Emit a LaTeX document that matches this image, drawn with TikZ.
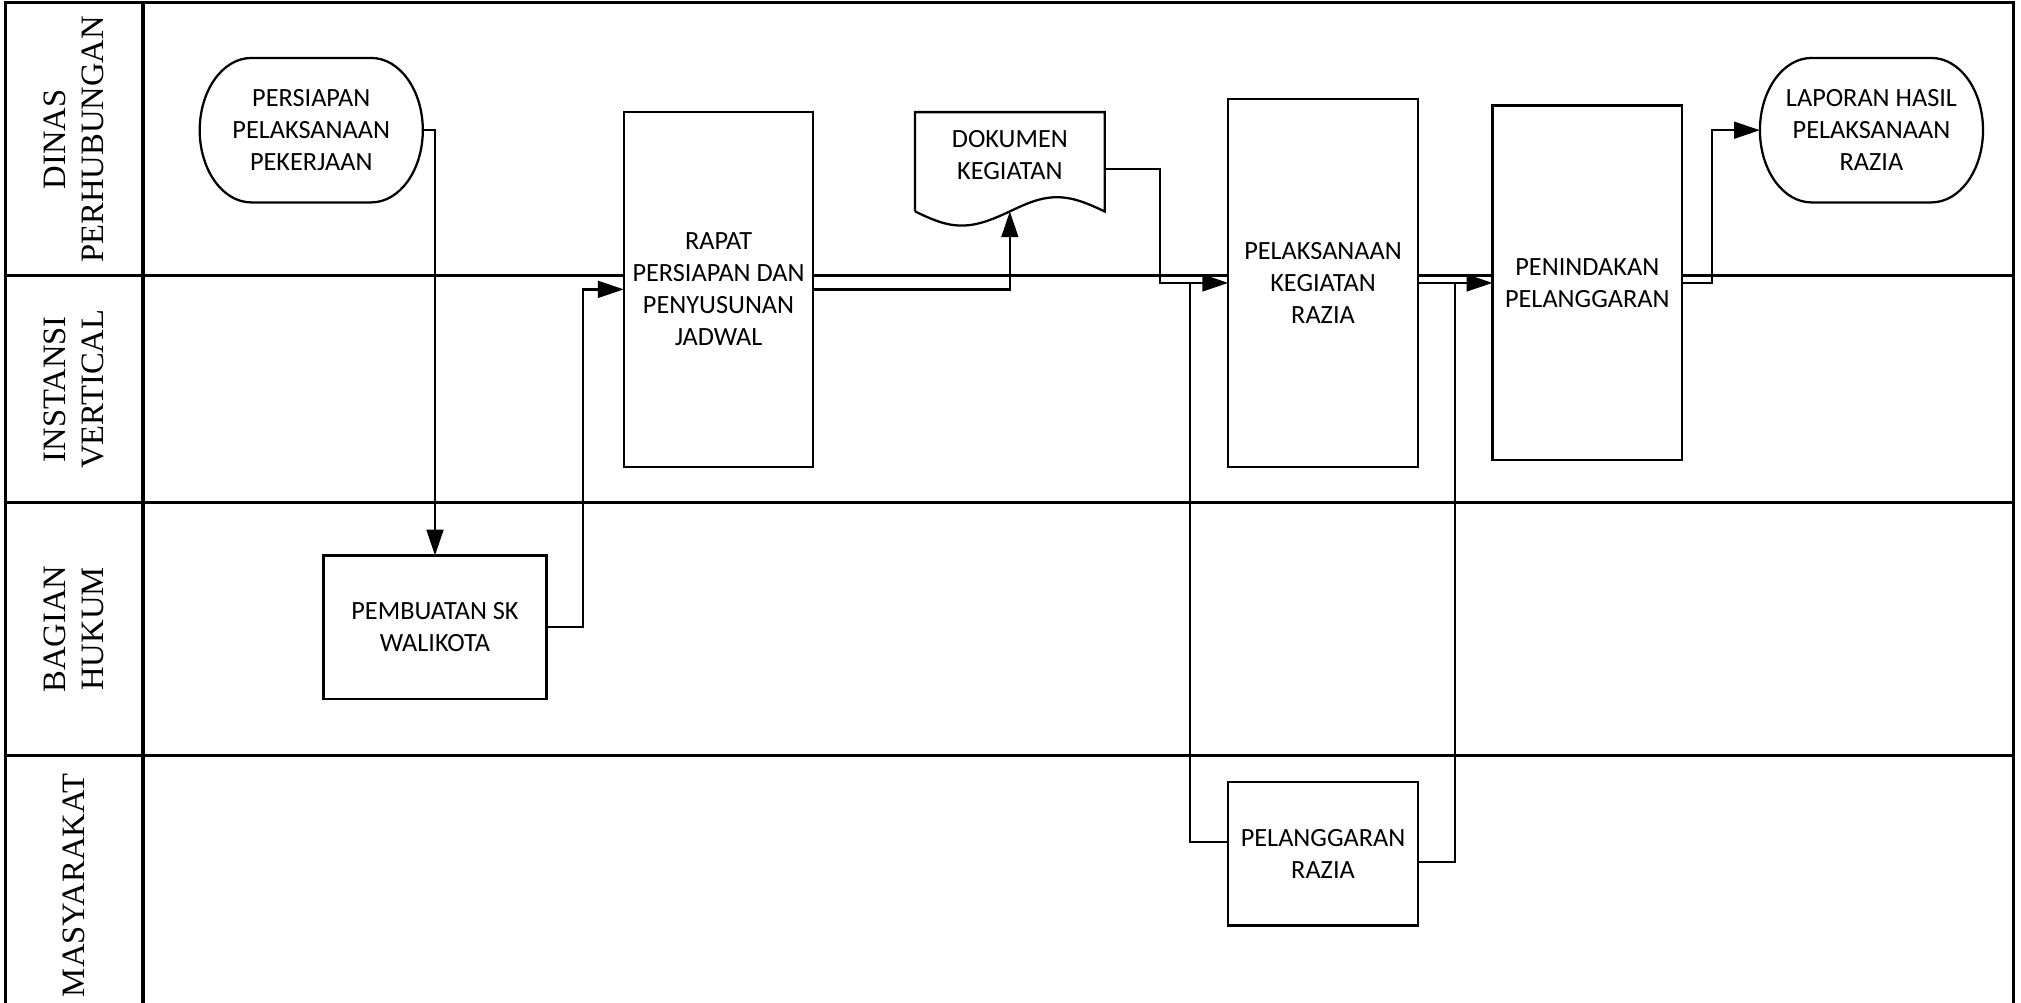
\documentclass[tikz,border=0pt]{standalone}
\usepackage{fontspec}
\setmainfont{Carlito}
\newfontfamily\lanefamily{Liberation Serif}
\usetikzlibrary{
	arrows.meta,
	positioning
}
\newcommand{\boxfont}{\fontsize{5.8}{7.1}\selectfont}
\newcommand{\lanefont}{\lanefamily\fontsize{7.2}{8.4}\selectfont}
\tikzset{
	lane/.style={
		line width=0.7pt
	},
	lanelabel/.style={
		rotate=90,
		align=center,
		font=\lanefont
	},
	process/.style={
		draw,
		fill=white,
		line width=0.5pt,
		align=center,
		font=\boxfont,
		inner sep=0pt,
		outer sep=0pt,
		minimum width=1.47cm
	},
	terminal/.style={
		align=center,
		font=\boxfont,
		inner sep=0pt,
		outer sep=0pt,
		minimum width=1.73cm,
		minimum height=1.12cm
	},
	flow/.style={
		line width=0.5pt,
		-{Triangle[length=0.2cm,width=0.13cm]}
	},
	link/.style={
		line width=0.5pt
	}
}

\begin{document}
\begin{tikzpicture}[x=0.01cm,y=-0.01cm]
	\useasboundingbox (0,0) rectangle (1568,778);

	% lanes
	\draw[lane] (4,778) -- (4,2) -- (1562,2) -- (1562,778);
	\draw[lane] (111,2) -- (111,778);
	\draw[lane] (4,214) -- (1562,214);
	\draw[lane] (4,390) -- (1562,390);
	\draw[lane] (4,586) -- (1562,586);

	\node[lanelabel] (dinas)     at (57.5,108) {DINAS\\PERHUBUNGAN};
	\node[lanelabel] (instansi)  at (57.5,302) {INSTANSI\\VERTICAL};
	\node[lanelabel] (hukum)     at (57.5,488) {BAGIAN\\HUKUM};
	\node[lanelabel] (masyarakat) at (57.5,687) {MASYARAKAT};

	% steps
	\node[terminal] (persiapan) at (241.5,101) {PERSIAPAN\\PELAKSANAAN\\PEKERJAAN};
	\node[terminal] (laporan)   at (1452,101)  {LAPORAN HASIL\\PELAKSANAAN\\RAZIA};
	\foreach \t in {persiapan,laporan}{
		\draw[link] ([xshift=0.4cm]\t.north west) -- ([xshift=-0.4cm]\t.north east)
			arc[start angle=90,end angle=-90,x radius=0.4cm,y radius=0.56cm]
			-- ([xshift=0.4cm]\t.south west)
			arc[start angle=270,end angle=90,x radius=0.4cm,y radius=0.56cm] -- cycle;
	}

	\node[process,minimum height=2.75cm] (rapat)       at (557.5,224.5)  {RAPAT\\PERSIAPAN DAN\\PENYUSUNAN\\JADWAL};
	\node[process,minimum height=2.85cm] (pelaksanaan) at (1026.5,219.5) {PELAKSANAAN\\KEGIATAN\\RAZIA};
	\node[process,minimum height=2.75cm] (penindakan)  at (1231.5,219.5) {PENINDAKAN\\PELANGGARAN};
	\node[process,minimum width=1.73cm,minimum height=1.11cm] (pembuatan) at (337.5,486.5) {PEMBUATAN SK\\WALIKOTA};
	\node[process,minimum height=1.11cm] (pelanggaran) at (1026.5,662.5) {PELANGGARAN\\RAZIA};

	\node[terminal,minimum width=1.47cm,minimum height=0.66cm] (dokumen) at (783.5,120) {DOKUMEN\\KEGIATAN};
	\draw[link] ([yshift=-0.11cm]dokumen.south west) -- (dokumen.north west) -- (dokumen.north east)
		-- ([yshift=-0.11cm]dokumen.south east)
		sin (820,153) cos (783.5,164) sin (746,175) cos ([yshift=-0.11cm]dokumen.south west);
	\coordinate (dokwave) at (783.5,164);

	% connectors
	\coordinate (j1) at (923.5,219.5);
	\coordinate (j2) at (1129,219.5);

	\draw[flow] (persiapan.east) -| (pembuatan.north);
	\draw[flow] (pembuatan.east) -- ++(28,0) |- (rapat.west);
	\draw[flow] (rapat.east) -| (dokwave);
	\draw[flow] ([yshift=-0.11cm]dokumen.east) -- ++(43,0) |- (pelaksanaan.west);
	\draw[flow] (pelaksanaan.east) -- (penindakan.west);
	\draw[flow] (penindakan.east) -- ++(23,0) |- (laporan.west);
	\draw[link] (j1) |- ([yshift=0.09cm]pelanggaran.west);
	\draw[link] ([yshift=-0.06cm]pelanggaran.east) -| (j2);
\end{tikzpicture}
\end{document}
